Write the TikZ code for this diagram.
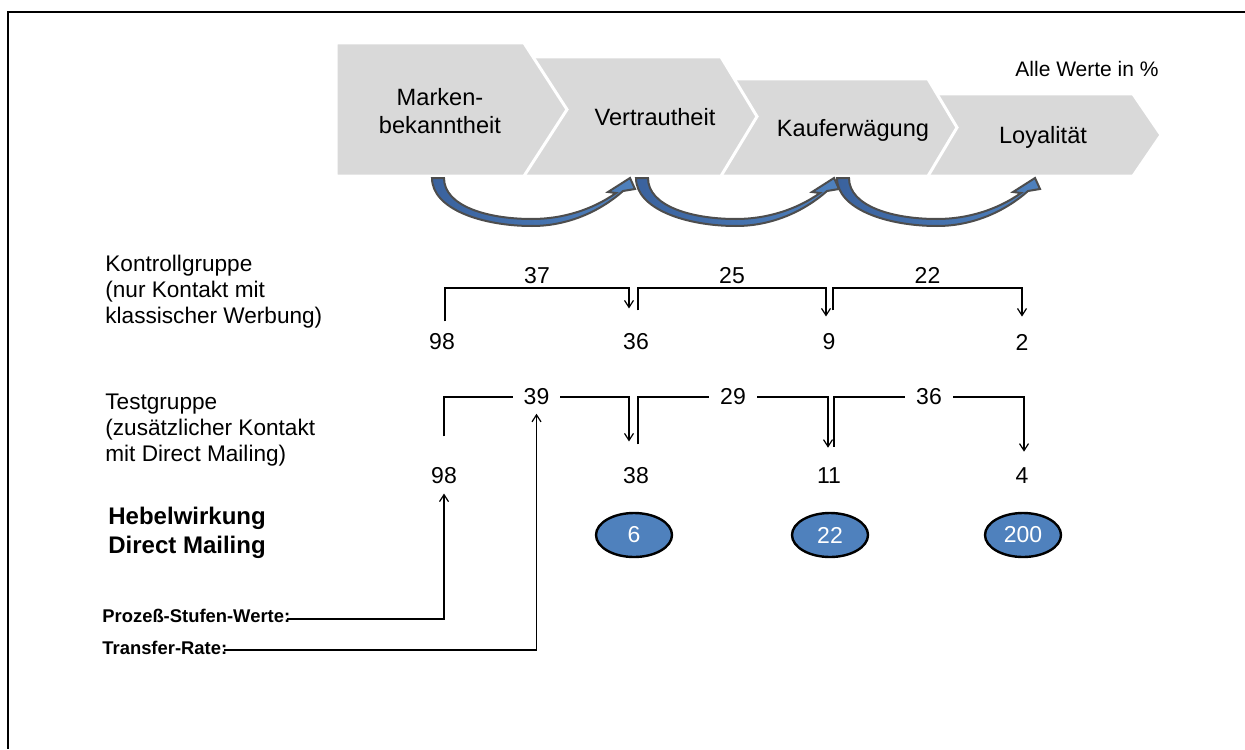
\documentclass[tikz,border=0pt]{standalone}
\usepackage{fontspec}
\setmainfont{Liberation Sans}
\usetikzlibrary{shapes.geometric,calc,arrows.meta}

\definecolor{chevgray}{RGB}{217,217,217}
\definecolor{mailblue}{RGB}{79,129,189}
\definecolor{mailbluedark}{RGB}{58,98,158}
\definecolor{arrowrim}{RGB}{77,77,77}

\begin{document}
\begin{tikzpicture}[x=0.5pt, y=-0.5pt, >={Straight Barb[length=3.5pt,width=4.5pt]},
  chev/.style={fill=chevgray, draw=white, line width=1.5pt},
  stage/.style={font=\fontsize{11.8}{14}\selectfont, align=center},
  num/.style={font=\fontsize{11.5}{13}\selectfont, inner sep=0pt},
  rate/.style={font=\fontsize{11.5}{13}\selectfont, inner xsep=5.5pt, inner ysep=1pt},
  group/.style={font=\fontsize{11.3}{13}\selectfont, align=left, anchor=west, inner sep=0pt},
  lever/.style={ellipse, draw=black, line width=1.2pt, fill=mailblue, text=white,
    minimum width=38pt, minimum height=22pt, inner sep=0pt, font=\fontsize{11.5}{13}\selectfont},
  legend/.style={font=\fontsize{9.2}{11}\selectfont\bfseries, anchor=west, inner sep=0pt},
  bend arrow/.style={left color=mailbluedark, right color=mailblue, draw=arrowrim, line width=1pt},
  link/.style={->, line width=0.6pt}]
\useasboundingbox (0,0) rectangle (1245,749);
\draw[line width=1pt] (1245,12) -- (8,12) -- (8,749);

% process stages
\filldraw[chev] (900,94) -- (1133,94) -- (1161,135) -- (1133,176) -- (900,176) -- cycle;
\filldraw[chev] (700,79) -- (928,79) -- (957,127.5) -- (928,176) -- (700,176) -- cycle;
\filldraw[chev] (480,57) -- (721,57) -- (757,116.5) -- (721,176) -- (480,176) -- cycle;
\filldraw[chev] (336,43) -- (524,43) -- (567,109.5) -- (524,176) -- (336,176) -- cycle;
\node[stage] (s1) at (440,111) {Marken-\\bekanntheit};
\node[stage] (s2) at (655,117) {Vertrautheit};
\node[stage] (s3) at (853,130) {Kauferwägung};
\node[stage] (s4) at (1043,137) {Loyalität};
\node[font=\fontsize{10.5}{12}\selectfont] (unit) at (1087,69) {Alle Werte in \%};

\foreach \x in {432,636,837}
  \filldraw[bend arrow, shift={(\x,178)}] (0,0) .. controls (0,31) and (50,48) .. (100,48)
    .. controls (140,48) and (172,30) .. (191,13) -- (203,11) -- (198,0) -- (176,14) -- (184,15)
    .. controls (160,32) and (130,41) .. (100,41) .. controls (55,41) and (12,28) .. (12,0) -- cycle;

% groups
\node[group] (kg) at (105,292) {Kontrollgruppe\\(nur Kontakt mit\\klassischer Werbung)};
\node[group] (tg) at (105,430) {Testgruppe\\(zusätzlicher Kontakt\\mit Direct Mailing)};
\node[group, font=\fontsize{12}{14.5}\selectfont\bfseries] (hw) at (108,533) {Hebelwirkung\\Direct Mailing};

\node[num] (k98) at (442,342) {98};
\node[num] (k36) at (636,342) {36};
\node[num] (k9) at (829,342) {9};
\node[num] (k2) at (1022,342) {2};
\node[num] (t98) at (444,476) {98};
\node[num] (t38) at (636,476) {38};
\node[num] (t11) at (829,476) {11};
\node[num] (t4) at (1022,476) {4};

\coordinate (klev) at (0,288);
\coordinate (tlev) at (0,397);

\draw[link] ($(k98.north)+(3,-12)$) |- node[rate, pos=0.75, above=1pt] (r37) {37}
  ($(klev -| k36)+(-7,0)$) -- ($(k36.north)+(-7,-25)$);
\draw[link] ($(k36.north)+(2,-23)$) |- node[rate, pos=0.75, above=1pt] (r25) {25}
  ($(klev -| k9)+(-3,0)$) -- ($(k9.north)+(-3,-17)$);
\draw[link] ($(k9.north)+(4,-23)$) |- node[rate, pos=0.75, above=1pt] (r22) {22}
  ($(klev -| k2)$) -- ($(k2.north)+(0,-17)$);

\draw[link] ($(t98.north)+(0,-31)$) |- node[rate, pos=0.75, fill=white] (r39) {39}
  ($(tlev -| t38)+(-7,0)$) -- ($(t38.north)+(-7,-26)$);
\draw[link] ($(t38.north)+(2,-23)$) |- node[rate, pos=0.75, fill=white] (r29) {29}
  ($(tlev -| t11)+(-1,0)$) -- ($(t11.north)+(-1,-20)$);
\draw[link] ($(t11.north)+(5,-21)$) |- node[rate, pos=0.75, fill=white] (r36) {36}
  ($(tlev -| t4)+(2,0)$) -- ($(t4.north)+(2,-16)$);

\node[lever] (h6) at (634,535) {6};
\node[lever] (h22) at (830,535) {22};
\node[lever] (h200) at (1023,535) {200};

% legend
\node[legend] (pw) at (102,616) {Prozeß-Stufen-Werte:};
\node[legend] (tr) at (102,648) {Transfer-Rate:};
\draw[link] ($(pw.east)+(-4,3)$) -| ($(t98.south)+(0,9)$);
\draw[link] ($(tr.east)+(-4,2)$) -| ($(r39.south)+(0,6)$);
\end{tikzpicture}
\end{document}
